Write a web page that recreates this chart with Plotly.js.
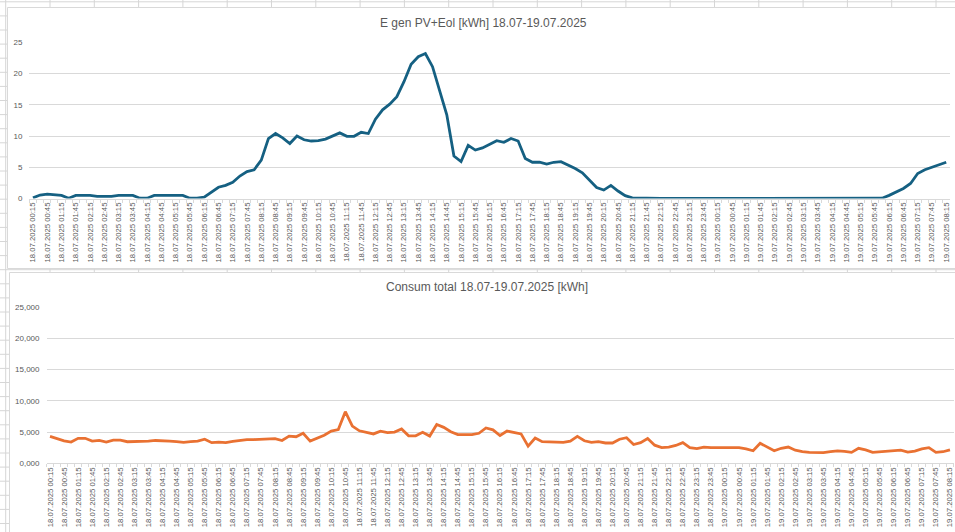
<!DOCTYPE html>
<html>
<head>
<meta charset="utf-8">
<script src="https://cdn.plot.ly/plotly-3.0.1.min.js"></script>
<style>
  html, body { margin: 0; padding: 0; background: #ffffff; }
  #chart { width: 955px; height: 532px; }
</style>
</head>
<body>
<div id="chart"></div>
<script>
// ---- Data ----
const titleGen = "E gen PV+Eol [kWh] 18.07-19.07.2025";
const titleCons = "Consum total 18.07-19.07.2025 [kWh]";

// 15-minute intervals from 18.07.2025 00:15 to 19.07.2025 08:15
const categories = [];
for (let i = 0; i < 129; i++) {
  const mins = 15 + 15 * i;
  const day = 18 + Math.floor(mins / 1440);
  const m = mins % 1440;
  const hh = String(Math.floor(m / 60)).padStart(2, "0");
  const mm = String(m % 60).padStart(2, "0");
  categories.push(day + ".07.2025 " + hh + ":" + mm);
}
// labels shown every 30 minutes
const tickLabels = categories.map((c, i) => (i % 2 === 0 ? c : ""));

const genValues = [
  0.1, 0.55, 0.7, 0.55, 0.5, 0.05, 0.5, 0.5, 0.5, 0.35,
  0.35, 0.35, 0.5, 0.5, 0.5, 0.05, 0.05, 0.5, 0.5, 0.5,
  0.5, 0.5, 0.05, 0.05, 0.2, 1.05, 1.8, 2.1, 2.6, 3.6,
  4.3, 4.6, 6.15, 9.6, 10.4, 9.7, 8.8, 10.0, 9.4, 9.2,
  9.25, 9.5, 9.95, 10.5, 9.95, 9.95, 10.6, 10.4, 12.7, 14.2,
  15.1, 16.3, 18.7, 21.5, 22.7, 23.2, 21.1, 17.1, 13.4, 6.8,
  5.9, 8.5, 7.75, 8.1, 8.7, 9.25, 9.0, 9.6, 9.2, 6.4,
  5.8, 5.8, 5.5, 5.8, 5.9, 5.4, 4.8, 4.1, 2.9, 1.75,
  1.35, 2.1, 1.2, 0.45, 0.1, 0.05, 0, 0, 0, 0,
  0, 0, 0, 0, 0, 0, 0, 0, 0, 0,
  0, 0, 0, 0, 0, 0, 0, 0, 0, 0,
  0, 0, 0, 0, 0, 0, 0, 0, 0, 0.05,
  0.5, 1.1, 1.6, 2.4, 4.0, 4.6, 5.0, 5.4, 5.8
];

const consValues = [
  4.3, 3.95, 3.6, 3.4, 4.0, 4.0, 3.55, 3.65, 3.4, 3.7,
  3.7, 3.45, 3.45, 3.55, 3.55, 3.65, 3.65, 3.55, 3.45, 3.35,
  3.45, 3.55, 3.85, 3.3, 3.4, 3.3, 3.5, 3.65, 3.8, 3.8,
  3.85, 3.95, 3.95, 3.65, 4.35, 4.25, 4.8, 3.55, 4.05, 4.5,
  5.15, 5.4, 8.25, 5.95, 5.2, 4.95, 4.7, 5.15, 4.9, 5.0,
  5.5, 4.4, 4.4, 4.95, 4.35, 6.2, 5.75, 5.05, 4.6, 4.6,
  4.6, 4.8, 5.65, 5.35, 4.45, 5.15, 4.9, 4.7, 2.75, 4.05,
  3.45, 3.45, 3.45, 3.35, 3.55, 4.3, 3.6, 3.35, 3.45, 3.25,
  3.25, 3.85, 4.1, 3.0, 3.3, 3.95, 2.9, 2.5, 2.6, 2.85,
  3.3, 2.5, 2.35, 2.6, 2.5, 2.5, 2.4, 2.5, 2.5, 2.3,
  2.0, 3.2, 2.65, 2.0, 2.4, 2.6, 2.1, 1.85, 1.75, 1.7,
  1.7, 1.85, 2.0, 1.9, 1.75, 2.4, 2.15, 1.75, 1.85, 1.85,
  1.95, 2.1, 1.8, 1.95, 2.3, 2.5, 1.75, 1.85, 2.15
];

const yTicks = [0, 5, 10, 15, 20, 25];

// ---- Layout helpers ----
const W = 955, H = 532;
const px = v => v / W;
const py = v => (H - v) / H;

const shapes = [];
// spreadsheet grid behind the chart objects
for (let x = 5.7; x < W; x += 44.3) {
  shapes.push({type: "line", xref: "paper", yref: "paper", layer: "below",
    x0: px(x), x1: px(x), y0: 0, y1: 1, line: {color: "#d6d6d6", width: 1}});
}
for (let y = 1.8; y < H; y += 14.1) {
  shapes.push({type: "line", xref: "paper", yref: "paper", layer: "below",
    x0: 0, x1: 1, y0: py(y), y1: py(y), line: {color: "#d6d6d6", width: 1}});
}
// chart objects (white boxes with light border)
shapes.push({type: "rect", xref: "paper", yref: "paper", layer: "below",
  x0: px(7.5), x1: px(960), y0: py(268.5), y1: py(7.5),
  fillcolor: "#ffffff", line: {color: "#d9d9d9", width: 1}});
shapes.push({type: "rect", xref: "paper", yref: "paper", layer: "below",
  x0: px(9.5), x1: px(960), y0: py(540), y1: py(272.5),
  fillcolor: "#ffffff", line: {color: "#d9d9d9", width: 1}});

const tickFont = {family: "Liberation Sans, Arial, sans-serif", size: 7.7, color: "#595959"};
const yFont = {family: "Liberation Sans, Arial, sans-serif", size: 8, color: "#595959"};

const xCommon = {
  type: "category",
  range: [-0.5, 128.5],
  tickmode: "array",
  tickvals: categories,
  ticktext: tickLabels,
  tickangle: -90,
  tickfont: tickFont,
  ticks: "outside",
  ticklen: 3,
  tickcolor: "#d9d9d9",
  tickson: "boundaries",
  showgrid: false,
  showline: true,
  linecolor: "#d9d9d9",
  linewidth: 1,
  zeroline: false,
  fixedrange: true
};
const yCommon = {
  range: [0, 25],
  tickmode: "array",
  tickvals: yTicks,
  showgrid: true,
  gridcolor: "#d9d9d9",
  gridwidth: 1,
  zeroline: false,
  showline: false,
  ticks: "",
  tickfont: yFont,
  ticklabelstandoff: 6,
  fixedrange: true
};

const traces = [
  {x: categories, y: genValues, xaxis: "x", yaxis: "y", type: "scatter", mode: "lines",
   line: {color: "#156082", width: 2.8, shape: "linear"}, hoverinfo: "skip"},
  {x: categories, y: consValues, xaxis: "x2", yaxis: "y2", type: "scatter", mode: "lines",
   line: {color: "#E97132", width: 2.8, shape: "linear"}, hoverinfo: "skip"}
];

const layout = {
  width: W, height: H,
  margin: {l: 0, r: 0, t: 0, b: 0, pad: 0},
  paper_bgcolor: "#ffffff",
  plot_bgcolor: "rgba(0,0,0,0)",
  showlegend: false,
  separators: ",.",
  xaxis: Object.assign({}, xCommon, {domain: [px(29.4), px(949.8)], anchor: "y"}),
  yaxis: Object.assign({}, yCommon, {domain: [py(198.5), py(42.3)], anchor: "x", tickformat: "d"}),
  xaxis2: Object.assign({}, xCommon, {domain: [px(46.5), px(953.5)], anchor: "y2"}),
  yaxis2: Object.assign({}, yCommon, {domain: [py(463.3), py(307)], anchor: "x2", tickformat: ".3f"}),
  shapes: shapes,
  annotations: [
    {text: titleGen, xref: "paper", yref: "paper", x: px(483.7), y: py(23),
     xanchor: "center", yanchor: "middle", showarrow: false,
     font: {family: "Liberation Sans, Arial, sans-serif", size: 12, color: "#595959"}},
    {text: titleCons, xref: "paper", yref: "paper", x: px(486.5), y: py(287),
     xanchor: "center", yanchor: "middle", showarrow: false,
     font: {family: "Liberation Sans, Arial, sans-serif", size: 12, color: "#595959"}}
  ]
};

Plotly.newPlot("chart", traces, layout, {staticPlot: true, displayModeBar: false});
</script>
</body>
</html>
